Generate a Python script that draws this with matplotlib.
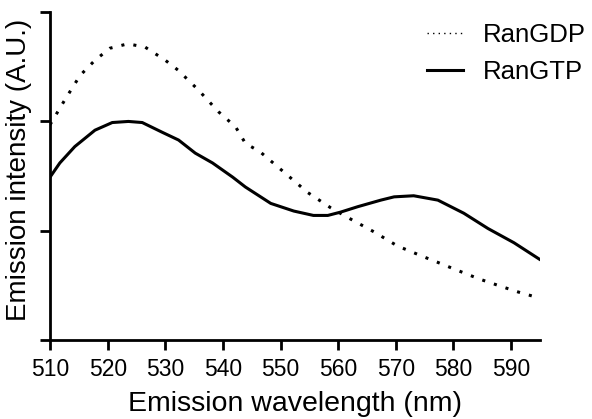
import matplotlib.pyplot as plt
from matplotlib.lines import Line2D

plt.rcParams['font.family'] = ['Liberation Sans', 'DejaVu Sans']

# wavelength (nm) and intensity (A.U.)
gdp_nm = [510, 512.6, 515.2, 517.8, 520.4, 523.5, 526.5, 530, 532.2, 535.7, 539.2,
          542.2, 543.9, 546.5, 550.5, 554.7, 558.7, 561.7, 566.2, 570.3, 574.9,
          577.3, 580.1, 584.4, 588.3, 591.2, 594.5]
gdp_val = [1.97, 2.20, 2.42, 2.56, 2.67, 2.71, 2.68, 2.56, 2.47, 2.29, 2.09,
           1.95, 1.80, 1.72, 1.54, 1.35, 1.21, 1.12, 0.99, 0.86, 0.76,
           0.71, 0.65, 0.56, 0.49, 0.44, 0.39]

gtp_nm = [510, 511.7, 514.3, 517.8, 520.8, 523.6, 526, 529.5, 532.3, 535.2, 538.2,
          541.7, 543.9, 548.3, 552.3, 555.7, 558.2, 560.4, 563.4, 567.4, 569.7,
          573.1, 577.3, 581.8, 586.0, 590.5, 594.9]
gtp_val = [1.49, 1.62, 1.77, 1.92, 1.99, 2.00, 1.99, 1.90, 1.83, 1.71, 1.62,
           1.49, 1.40, 1.25, 1.18, 1.14, 1.14, 1.17, 1.22, 1.28, 1.31,
           1.32, 1.28, 1.16, 1.02, 0.89, 0.74]

xticks = [510, 520, 530, 540, 550, 560, 570, 580, 590]

fig = plt.figure(figsize=(5.92, 4.19), dpi=100)
ax = fig.add_axes([0.0845, 0.1885, 0.8275, 0.7825])

ax.plot(gdp_nm, gdp_val, color='black', lw=2.2, linestyle=(0, (1, 3)))
ax.plot(gtp_nm, gtp_val, color='black', lw=2.2)

ax.set_xlim(510, 595)
ax.set_ylim(0, 3)
ax.set_xticks(xticks)
ax.set_yticks([0, 1, 2, 3])
ax.set_yticklabels([])
for s in ['top', 'right']:
    ax.spines[s].set_visible(False)
for s in ['left', 'bottom']:
    ax.spines[s].set_linewidth(2)
ax.tick_params(direction='out', length=7, width=2, labelsize=16.5, pad=6)

ax.set_xlabel('Emission wavelength (nm)', fontsize=20.5, labelpad=7)
ax.set_ylabel('Emission intensity (A.U.)', fontsize=20)
ax.yaxis.set_label_coords(-0.036, 0.52)

handles = [Line2D([], [], color='black', lw=1, linestyle=(0, (1, 3))),
           Line2D([], [], color='black', lw=2.2)]
fig.legend(handles, ['RanGDP', 'RanGTP'], loc='upper right',
           bbox_to_anchor=(0.99, 0.945), frameon=False, fontsize=18.5,
           handlelength=1.4, handletextpad=0.8, borderpad=0, borderaxespad=0,
           labelspacing=0.5)

fig.savefig('out.png', dpi=100)
